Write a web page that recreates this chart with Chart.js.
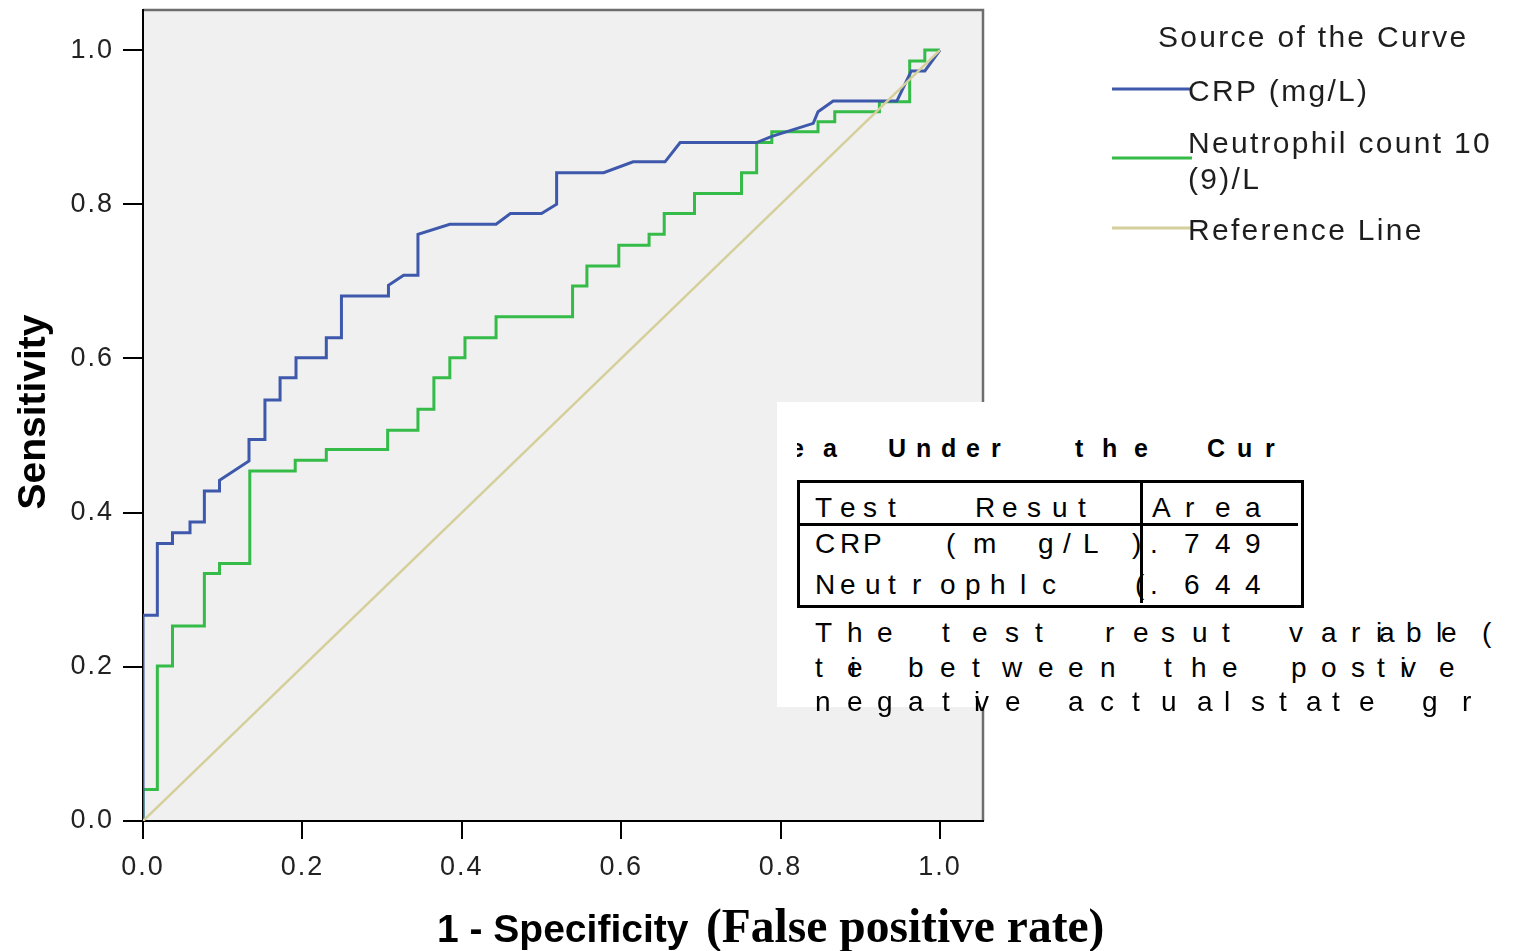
<!DOCTYPE html>
<html>
<head>
<meta charset="utf-8">
<title>ROC Curve</title>
<script src="https://cdn.jsdelivr.net/npm/chart.js@4.4.1/dist/chart.umd.min.js"></script>
<style>
  html, body { margin: 0; padding: 0; background: #ffffff; }
  #wrap { position: relative; width: 1516px; height: 951px; overflow: hidden; }
  #roc { position: absolute; left: 0; top: 0; }
  .box { position: absolute; background: #ffffff; }
  .rule { position: absolute; background: #000000; }
  .g { position: absolute; font-family: "Liberation Sans", Arial, sans-serif; color: #000;
       white-space: pre; line-height: 1; }
  .clip { position: absolute; overflow: hidden; }
</style>
</head>
<body>
<div id="wrap">
  <canvas id="roc" width="1516" height="951"></canvas>
</div>
<script>
// ---- ROC coordinates (1 - specificity, sensitivity) ----
const crpFpr  = [0, 0, 0.018, 0.018, 0.037, 0.037, 0.059, 0.059, 0.077, 0.077, 0.096, 0.096,
                 0.133, 0.133, 0.153, 0.153, 0.172, 0.172, 0.192, 0.192, 0.230, 0.230, 0.249, 0.249,
                 0.308, 0.308, 0.327, 0.345, 0.345, 0.385, 0.443, 0.461, 0.500, 0.519, 0.519, 0.578,
                 0.615, 0.655, 0.674, 0.770, 0.789, 0.841, 0.847, 0.866, 0.946, 0.964, 0.981, 1];
const crpSens = [0, 0.267, 0.267, 0.360, 0.360, 0.374, 0.374, 0.388, 0.388, 0.428, 0.428, 0.442,
                 0.467, 0.495, 0.495, 0.546, 0.546, 0.575, 0.575, 0.601, 0.601, 0.627, 0.627, 0.681,
                 0.681, 0.695, 0.708, 0.708, 0.761, 0.774, 0.774, 0.788, 0.788, 0.800, 0.841, 0.841,
                 0.855, 0.855, 0.880, 0.880, 0.888, 0.905, 0.920, 0.934, 0.934, 0.973, 0.973, 1];

const neuFpr  = [0, 0, 0.018, 0.018, 0.037, 0.037, 0.077, 0.077, 0.096, 0.096, 0.134, 0.134,
                 0.191, 0.191, 0.230, 0.230, 0.307, 0.307, 0.345, 0.345, 0.365, 0.365, 0.385, 0.385,
                 0.404, 0.404, 0.443, 0.443, 0.539, 0.539, 0.557, 0.557, 0.597, 0.597, 0.635, 0.635,
                 0.654, 0.654, 0.692, 0.692, 0.751, 0.751, 0.770, 0.770, 0.789, 0.789, 0.847, 0.847,
                 0.868, 0.868, 0.924, 0.924, 0.962, 0.962, 0.981, 0.981, 1];
const neuSens = [0, 0.041, 0.041, 0.201, 0.201, 0.253, 0.253, 0.321, 0.321, 0.334, 0.334, 0.454,
                 0.454, 0.468, 0.468, 0.482, 0.482, 0.507, 0.507, 0.534, 0.534, 0.575, 0.575, 0.601,
                 0.601, 0.627, 0.627, 0.654, 0.654, 0.694, 0.694, 0.720, 0.720, 0.747, 0.747, 0.761,
                 0.761, 0.788, 0.788, 0.814, 0.814, 0.841, 0.841, 0.880, 0.880, 0.894, 0.894, 0.907,
                 0.907, 0.920, 0.920, 0.933, 0.933, 0.986, 0.986, 1, 1];

const refFpr  = [0, 1];
const refSens = [0, 1];

const seriesNames = ["CRP (mg/L)", "Neutrophil count 10 (9)/L", "Reference Line"];
const legendLines = [["CRP (mg/L)"], ["Neutrophil count 10", "(9)/L"], ["Reference Line"]];
const legendTitle = "Source of the Curve";
const tickValues = [0, 0.2, 0.4, 0.6, 0.8, 1.0];

// Area under the curve
const aucAreas = [0.749, 0.644];

function pts(xs, ys) { return xs.map((x, i) => ({ x: x, y: ys[i] })); }
const fmt = v => v.toFixed(1);

const FONT = '"Liberation Sans", Arial, sans-serif';

// plot background, outer frame, tick-label spacing
const framePlugin = {
  id: 'frame',
  beforeDraw(chart) {
    const { ctx, chartArea: a } = chart;
    ctx.save();
    ctx.fillStyle = '#f0f0f0';
    ctx.fillRect(a.left, a.top, a.right - a.left, a.bottom - a.top);
    ctx.strokeStyle = '#6e6e6e';
    ctx.lineWidth = 2.5;
    ctx.beginPath();
    ctx.moveTo(a.left, a.top);
    ctx.lineTo(a.right, a.top);
    ctx.lineTo(a.right, a.bottom);
    ctx.stroke();
    ctx.restore();
    ctx.letterSpacing = '2px';
  }
};

// axis titles and legend
const textPlugin = {
  id: 'texts',
  afterDraw(chart) {
    const ctx = chart.ctx;
    ctx.save();
    ctx.letterSpacing = '0px';
    ctx.fillStyle = '#000';
    ctx.textBaseline = 'alphabetic';

    // y title
    ctx.save();
    ctx.translate(45, 412);
    ctx.rotate(-Math.PI / 2);
    ctx.textAlign = 'center';
    ctx.font = 'bold 39px ' + FONT;
    ctx.fillText('Sensitivity', 0, 0);
    ctx.restore();

    // x title: sans part then serif part
    ctx.textAlign = 'left';
    ctx.font = 'bold 39px ' + FONT;
    ctx.fillText('1 - Specificity', 437, 942);
    ctx.font = 'bold 47.5px "Liberation Serif", "Times New Roman", serif';
    ctx.fillText('(False positive rate)', 706, 942);

    // legend
    ctx.letterSpacing = '2.3px';
    ctx.font = '30px ' + FONT;
    ctx.fillStyle = '#1e1e1e';
    ctx.fillText(legendTitle, 1158, 47);
    const lineY = [89, 158, 228];
    const textY = [[101], [153, 189], [240]];
    chart.data.datasets.forEach((ds, i) => {
      ctx.strokeStyle = ds.borderColor;
      ctx.lineWidth = 3;
      ctx.beginPath();
      ctx.moveTo(1112, lineY[i]);
      ctx.lineTo(1192, lineY[i]);
      ctx.stroke();
      legendLines[i].forEach((t, k) => ctx.fillText(t, 1188, textY[i][k]));
    });
    ctx.restore();
  }
};

const tickFont = { family: FONT, size: 27 };

new Chart(document.getElementById('roc'), {
  type: 'scatter',
  data: {
    datasets: [
      { label: seriesNames[0], data: pts(crpFpr, crpSens), borderColor: '#3e58ac',
        showLine: true, borderWidth: 3, pointRadius: 0, tension: 0, order: 1 },
      { label: seriesNames[1], data: pts(neuFpr, neuSens), borderColor: '#34bb48',
        showLine: true, borderWidth: 3, pointRadius: 0, tension: 0, order: 2 },
      { label: seriesNames[2], data: pts(refFpr, refSens), borderColor: '#d5cf9b',
        showLine: true, borderWidth: 2.5, pointRadius: 0, tension: 0, order: 0 }
    ]
  },
  options: {
    responsive: false,
    animation: false,
    devicePixelRatio: 1,
    layout: { padding: { left: 0, top: 10, right: 533, bottom: 0 } },
    plugins: { legend: { display: false }, tooltip: { enabled: false } },
    scales: {
      x: {
        type: 'linear', min: 0, max: 1.054,
        afterFit(s) { s.height = 130; s.paddingLeft = 0; s.paddingRight = 0; },
        afterBuildTicks(s) { s.ticks = tickValues.map(v => ({ value: v })); },
        ticks: { stepSize: 0.2, includeBounds: false, callback: fmt, font: tickFont,
                 color: '#222', padding: 12, maxRotation: 0 },
        grid: { drawOnChartArea: false, drawTicks: true, tickLength: 18, color: '#000', lineWidth: 2 },
        border: { display: true, color: '#000', width: 2 }
      },
      y: {
        type: 'linear', min: 0, max: 1.052,
        afterFit(s) { s.width = 143; s.paddingTop = 0; s.paddingBottom = 0; },
        afterBuildTicks(s) { s.ticks = tickValues.map(v => ({ value: v })); },
        ticks: { stepSize: 0.2, includeBounds: false, callback: fmt, font: tickFont,
                 color: '#222', padding: 9 },
        grid: { drawOnChartArea: false, drawTicks: true, tickLength: 20, color: '#000', lineWidth: 2 },
        border: { display: true, color: '#000', width: 2 }
      }
    }
  },
  plugins: [framePlugin, textPlugin]
});

// ---- "Area Under the Curve" output table ----
const wrap = document.getElementById('wrap');
function el(cls, css, parent) {
  const d = document.createElement('div');
  d.className = cls;
  Object.assign(d.style, css);
  (parent || wrap).appendChild(d);
  return d;
}
// place characters one by one at their x positions on a common baseline
function glyphs(str, xs, baseline, size, weight, parent, ox, oy) {
  ox = ox || 0; oy = oy || 0;
  [...str].forEach((ch, i) => {
    const s = el('g', {
      left: (xs[i] - 1 - ox) + 'px',
      top: (baseline - 0.846 * size - oy) + 'px',
      fontSize: size + 'px',
      fontWeight: weight || 'normal'
    }, parent);
    s.textContent = ch;
  });
}

el('box', { left: '777px', top: '402px', width: '739px', height: '305px' });

// title, clipped by its cell
const tClip = el('clip', { left: '797px', top: '426px', width: '493px', height: '44px' });
glyphs('AreaUndertheCurve',
  [738, 764, 791, 824, 889, 917, 942, 967, 992, 1076, 1103, 1135, 1208, 1238, 1266, 1294, 1318],
  457, 25, 'bold', tClip, 797, 426);

// header
glyphs('TestResut', [816, 841, 864, 889, 976, 1003, 1028, 1053, 1079], 518, 28);
glyphs('Area', [1153, 1186, 1216, 1246], 518, 28);
// rows
glyphs('CRP(mg/L)', [816, 841, 864, 947, 974, 1039, 1064, 1084, 1133], 554, 28);
glyphs('Neutrophlc(', [816, 841, 866, 889, 913, 941, 966, 991, 1021, 1043, 1136], 595, 28);
const valX = [1151, 1185, 1216, 1246];
aucAreas.forEach((v, i) => glyphs(v.toFixed(3).replace(/^0/, ''), valX, [554, 595][i], 28));

// footnote
glyphs('Thetestresutvaraible(',
  [816, 848, 878, 943, 973, 1006, 1036, 1106, 1134, 1162, 1193, 1223, 1290, 1322, 1352, 1380, 1377, 1407, 1437, 1442, 1483],
  643, 28);
glyphs('tiebetweenthepostive',
  [816, 851, 848, 909, 941, 973, 1003, 1039, 1069, 1101, 1165, 1192, 1223, 1292, 1322, 1352, 1378, 1401, 1403, 1440],
  678, 28);
glyphs('negativeactualstategr',
  [816, 848, 878, 909, 943, 975, 976, 1006, 1069, 1101, 1133, 1162, 1198, 1225, 1252, 1280, 1307, 1333, 1360, 1423, 1463],
  712, 28);

// table rules
el('rule', { left: '797px', top: '480px', width: '507px', height: '3px' });   // top
el('rule', { left: '797px', top: '605px', width: '507px', height: '3px' });   // bottom
el('rule', { left: '797px', top: '480px', width: '3px', height: '128px' });   // left
el('rule', { left: '1301px', top: '480px', width: '3px', height: '128px' });  // right
el('rule', { left: '797px', top: '523px', width: '501px', height: '3px' });   // header separator
el('rule', { left: '1140px', top: '482px', width: '3px', height: '121px' });  // column divider
</script>
</body>
</html>
